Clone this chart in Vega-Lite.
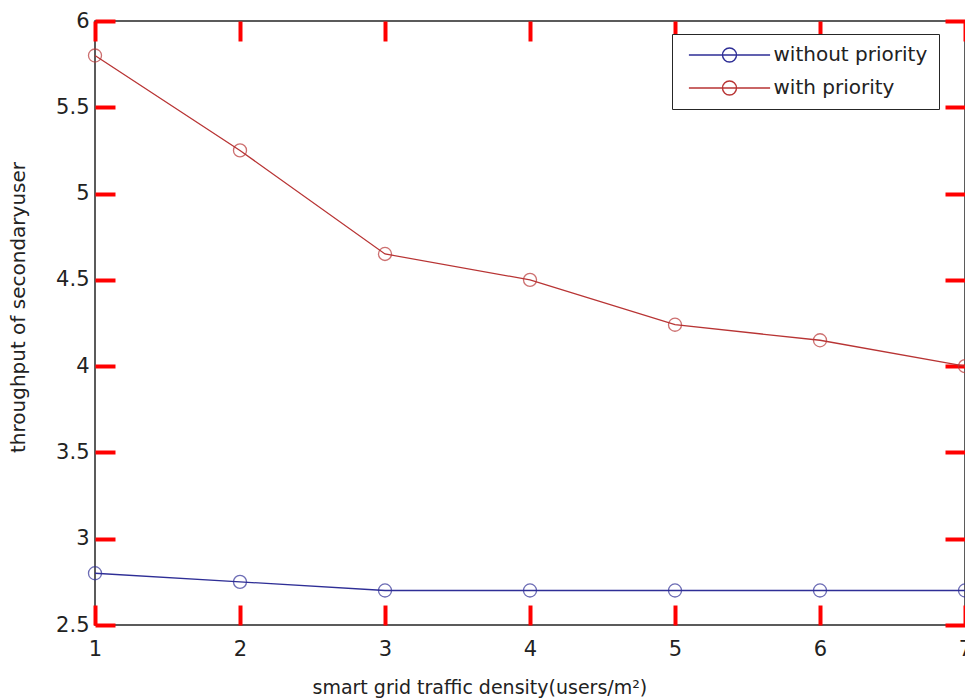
{
  "$schema": "https://vega.github.io/schema/vega-lite/v6.json",
  "autosize": {"type": "none"},
  "padding": {"left": 95, "top": 21, "right": 0, "bottom": 73},
  "width": 870,
  "height": 604,
  "background": "white",
  "config": {
    "view": {"stroke": "#262626", "strokeWidth": 1.5},
    "font": "DejaVu Sans",
    "axis": {
      "labelFont": "DejaVu Sans",
      "titleFont": "DejaVu Sans",
      "labelColor": "#222",
      "titleColor": "#222",
      "tickColor": "red",
      "tickWidth": 4,
      "tickSize": 20,
      "offset": -20,
      "domain": false,
      "grid": false,
      "titleFontWeight": "normal"
    }
  },
  "data": {
    "values": [
      {"density": 1, "throughput": 2.80, "series": "without priority"},
      {"density": 2, "throughput": 2.75, "series": "without priority"},
      {"density": 3, "throughput": 2.70, "series": "without priority"},
      {"density": 4, "throughput": 2.70, "series": "without priority"},
      {"density": 5, "throughput": 2.70, "series": "without priority"},
      {"density": 6, "throughput": 2.70, "series": "without priority"},
      {"density": 7, "throughput": 2.70, "series": "without priority"},
      {"density": 1, "throughput": 5.80, "series": "with priority"},
      {"density": 2, "throughput": 5.25, "series": "with priority"},
      {"density": 3, "throughput": 4.65, "series": "with priority"},
      {"density": 4, "throughput": 4.50, "series": "with priority"},
      {"density": 5, "throughput": 4.24, "series": "with priority"},
      {"density": 6, "throughput": 4.15, "series": "with priority"},
      {"density": 7, "throughput": 4.00, "series": "with priority"}
    ]
  },
  "layer": [
    {
      "mark": {"type": "line", "strokeWidth": 1.3, "clip": false},
      "encoding": {
        "x": {
          "field": "density", "type": "quantitative",
          "scale": {"domain": [1, 7], "nice": false, "zero": false},
          "axis": {
            "orient": "bottom",
            "values": [1, 2, 3, 4, 5, 6, 7],
            "format": "d",
            "labelFontSize": 21,
            "labelPadding": 13,
            "labelFlush": false,
            "title": "smart grid traffic density(users/m²)",
            "titleFontSize": 19,
            "titleX": 217,
            "titleY": 88,
            "titleAlign": "left",
            "titleBaseline": "alphabetic"
          }
        },
        "y": {
          "field": "throughput", "type": "quantitative",
          "scale": {"domain": [2.5, 6], "nice": false, "zero": false},
          "axis": {
            "orient": "left",
            "values": [2.5, 3, 3.5, 4, 4.5, 5, 5.5, 6],
            "format": ".1~f",
            "labelFontSize": 21,
            "labelPadding": 6,
            "labelFlush": false,
            "title": "throughput of secondaryuser",
            "titleFontSize": 20,
            "titleAngle": -90,
            "titleX": -97,
            "titleY": 286,
            "titleAlign": "center",
            "titleBaseline": "middle"
          }
        },
        "color": {
          "field": "series", "type": "nominal",
          "scale": {"domain": ["without priority", "with priority"], "range": ["#2e2e96", "#b83434"]},
          "legend": {
            "orient": "none",
            "legendX": 577,
            "legendY": 13,
            "title": null,
            "symbolType": "M-5.8,0H5.8M1,0A1,1 0 1 1 -1,0A1,1 0 1 1 1,0",
            "symbolSize": 196,
            "symbolFillColor": "transparent",
            "symbolStrokeWidth": 1.4,
            "symbolOffset": 36.5,
            "labelOffset": 34,
            "labelFont": "DejaVu Sans",
            "labelFontSize": 20,
            "labelColor": "#222",
            "labelLimit": 400,
            "rowPadding": 13,
            "padding": 11,
            "strokeColor": "#262626",
            "fillColor": "white"
          }
        }
      }
    },
    {
      "mark": {"type": "point", "shape": "circle", "filled": false, "size": 170, "strokeWidth": 1.3, "clip": false},
      "encoding": {
        "x": {
          "field": "density", "type": "quantitative",
          "axis": {"orient": "top", "values": [1, 2, 3, 4, 5, 6, 7], "labels": false, "title": null}
        },
        "y": {
          "field": "throughput", "type": "quantitative",
          "axis": {"orient": "right", "values": [2.5, 3, 3.5, 4, 4.5, 5, 5.5, 6], "labels": false, "title": null}
        },
        "color": {"field": "series", "type": "nominal", "legend": null}
      }
    }
  ],
  "resolve": {"axis": {"x": "independent", "y": "independent"}}
}
